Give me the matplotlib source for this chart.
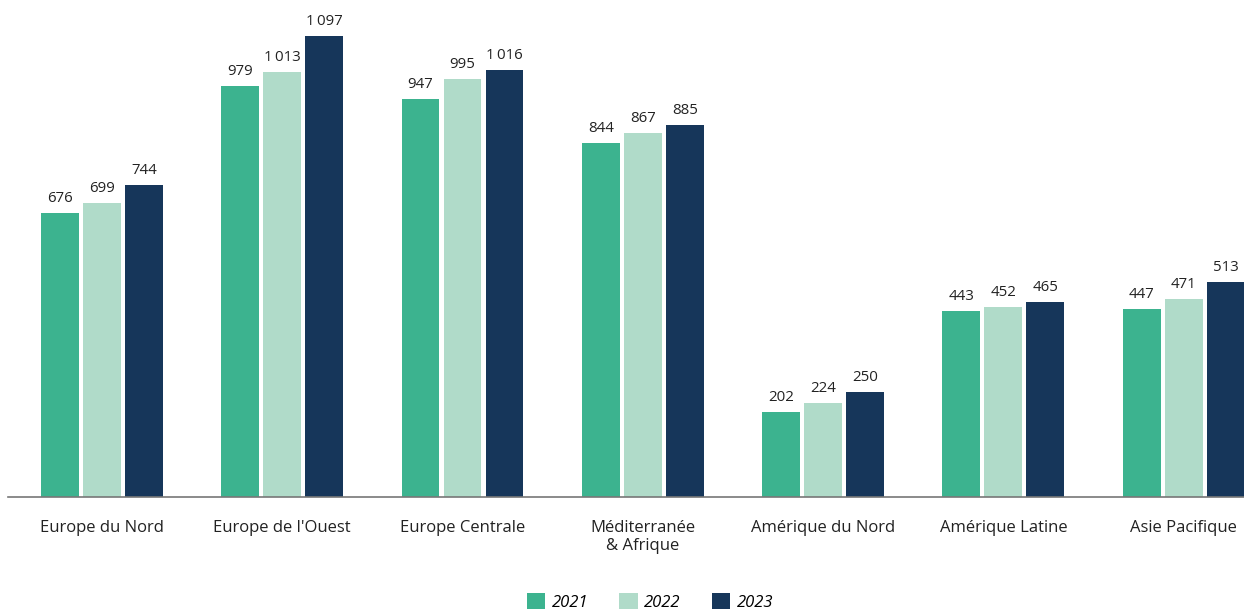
import matplotlib
matplotlib.use("Agg")
import matplotlib.pyplot as plt
import numpy as np

regions = ["Europe du Nord", "Europe de l'Ouest", "Europe Centrale",
           "Méditerranée\n& Afrique", "Amérique du Nord", "Amérique Latine", "Asie Pacifique"]
years = ["2021", "2022", "2023"]
v2021 = [676, 979, 947, 844, 202, 443, 447]
v2022 = [699, 1013, 995, 867, 224, 452, 471]
v2023 = [744, 1097, 1016, 885, 250, 465, 513]
colors = ["#3cb38f", "#b0dbc9", "#16365a"]

plt.rcParams["font.family"] = ["Open Sans", "DejaVu Sans"]

fig = plt.figure(figsize=(12.44, 6.10), dpi=100)
ax = fig.add_axes([8 / 1244, 113 / 610, 1237 / 1244, 483 / 610])

x = np.arange(len(regions))
w = 0.21
step = 0.233
for k, (vals, col, yr) in enumerate(zip([v2021, v2022, v2023], colors, years)):
    pos = x + (k - 1) * step
    ax.bar(pos, vals, width=w, color=col, label=yr, zorder=2)
    for xp, v in zip(pos, vals):
        txt = f"{v:,}".replace(",", "\u2009")
        ax.annotate(txt, (xp, v), xytext=(0, 5), textcoords="offset points",
                    ha="center", va="bottom", fontsize=10.8, color="#222222")

ax.set_xlim(-0.521, 6.34)
ax.set_ylim(0, 1150)
for s in ["top", "right", "left"]:
    ax.spines[s].set_visible(False)
ax.spines["bottom"].set_color("#777777")
ax.spines["bottom"].set_linewidth(1.2)
ax.set_yticks([])
ax.set_xticks(x)
ax.set_xticklabels(regions, fontsize=12, color="#222222", linespacing=1.2, va="top")
ax.tick_params(axis="x", length=0, pad=16.5)

# legend sits slightly right of centre in the original
fig.legend(loc="center", bbox_to_anchor=(650 / 1244, 8 / 610), ncol=3, frameon=False,
           handlelength=1.1, handleheight=1.1, columnspacing=1.85, handletextpad=0.4,
           prop={"style": "italic", "size": 12})

fig.savefig("out.png", dpi=100)
